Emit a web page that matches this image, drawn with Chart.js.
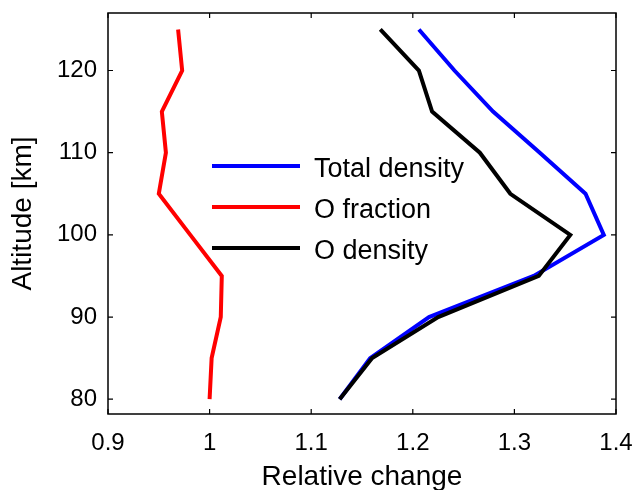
<!DOCTYPE html>
<html>
<head>
<meta charset="utf-8">
<title>Relative change with altitude</title>
<script src="https://cdn.jsdelivr.net/npm/chart.js@4.4.1/dist/chart.umd.min.js"></script>
<style>
    html, body { margin: 0; padding: 0; background: #fff; }
    #wrap { width: 638px; height: 490px; }
</style>
</head>
<body>
<div id="wrap"><canvas id="profileChart" width="638" height="490"></canvas></div>
<script>
const altitudes = [80, 85, 90, 95, 100, 105, 110, 115, 120, 125];
const totalDensity = [1.128, 1.158, 1.216, 1.319, 1.388, 1.370, 1.325, 1.279, 1.241, 1.206];
const oFraction = [1.000, 1.002, 1.011, 1.012, 0.981, 0.950, 0.957, 0.953, 0.973, 0.969];
const oDensity = [1.128, 1.160, 1.225, 1.324, 1.355, 1.296, 1.266, 1.219, 1.206, 1.168];

const xTicks = [0.9, 1.0, 1.1, 1.2, 1.3, 1.4];
const yTicks = [80, 90, 100, 110, 120];

const FONT = '"Liberation Sans", Arial, Helvetica, sans-serif';

function toPoints(values) {
    return values.map((v, i) => ({ x: v, y: altitudes[i] }));
}

// no extra room for the end labels, layout padding decides the plot box
function noLabelPadding(scale) {
    scale.paddingLeft = 0;
    scale.paddingRight = 0;
    scale.paddingTop = 0;
    scale.paddingBottom = 0;
}

// box round the plot with inward tick marks on all four sides
const boxPlugin = {
    id: 'boxTicks',
    afterDatasetsDraw(chart) {
        const { ctx, chartArea: a, scales } = chart;
        const len = 5;
        ctx.save();
        ctx.strokeStyle = '#000';
        ctx.lineWidth = 1.5;
        ctx.strokeRect(a.left, a.top, a.right - a.left, a.bottom - a.top);
        ctx.lineWidth = 1.2;
        ctx.beginPath();
        xTicks.forEach((t) => {
            const px = scales.x.getPixelForValue(t);
            ctx.moveTo(px, a.bottom); ctx.lineTo(px, a.bottom - len);
            ctx.moveTo(px, a.top); ctx.lineTo(px, a.top + len);
        });
        yTicks.forEach((t) => {
            const py = scales.y.getPixelForValue(t);
            ctx.moveTo(a.left, py); ctx.lineTo(a.left + len, py);
            ctx.moveTo(a.right, py); ctx.lineTo(a.right - len, py);
        });
        ctx.stroke();
        ctx.restore();
    },
};

// legend inside the plot, no frame
const legendPlugin = {
    id: 'innerLegend',
    afterDatasetsDraw(chart) {
        const { ctx, chartArea: a } = chart;
        const x0 = a.left + 104;
        const x1 = x0 + 88;
        const size = 27;
        ctx.save();
        ctx.font = `${size}px ${FONT}`;
        ctx.textBaseline = 'alphabetic';
        ctx.fillStyle = '#000';
        chart.data.datasets.forEach((ds, i) => {
            const y = a.top + 153 + i * 41;
            ctx.strokeStyle = ds.borderColor;
            ctx.lineWidth = ds.borderWidth;
            ctx.beginPath();
            ctx.moveTo(x0, y);
            ctx.lineTo(x1, y);
            ctx.stroke();
            ctx.fillText(ds.label, x1 + 14, y + 10.5);
        });
        ctx.restore();
    },
};

new Chart(document.getElementById('profileChart'), {
    type: 'line',
    data: {
        datasets: [
            { label: 'Total density', data: toPoints(totalDensity), borderColor: '#0000ff', borderWidth: 4, order: 2 },
            { label: 'O fraction', data: toPoints(oFraction), borderColor: '#ff0000', borderWidth: 4, order: 1 },
            { label: 'O density', data: toPoints(oDensity), borderColor: '#000000', borderWidth: 4, order: 0 },
        ],
    },
    options: {
        responsive: false,
        animation: false,
        layout: { padding: { left: 0, right: 22, top: 13, bottom: 0 } },
        elements: {
            line: { tension: 0, fill: false, borderCapStyle: 'butt', borderJoinStyle: 'miter' },
            point: { radius: 0, hoverRadius: 0 },
        },
        plugins: {
            legend: { display: false },
            tooltip: { enabled: false },
        },
        scales: {
            x: {
                type: 'linear',
                min: 0.9,
                max: 1.4,
                afterBuildTicks: (scale) => { scale.ticks = xTicks.map((v) => ({ value: v })); },
                afterFit: (scale) => { scale.height = 76; noLabelPadding(scale); },
                grid: { display: false, drawTicks: false },
                border: { display: false },
                ticks: {
                    color: '#000',
                    padding: 15,
                    maxRotation: 0,
                    font: { family: FONT, size: 24 },
                    callback: (v) => String(Math.round(v * 10) / 10),
                },
                title: {
                    display: true,
                    text: 'Relative change',
                    color: '#000',
                    font: { family: FONT, size: 28, lineHeight: 0.92 },
                    padding: { top: 0, bottom: 0 },
                },
            },
            y: {
                type: 'linear',
                min: 78.2,
                max: 127,
                afterBuildTicks: (scale) => { scale.ticks = yTicks.map((v) => ({ value: v })); },
                afterFit: (scale) => { scale.width = 108; noLabelPadding(scale); },
                grid: { display: false, drawTicks: false },
                border: { display: false },
                ticks: {
                    color: '#000',
                    padding: 11,
                    font: { family: FONT, size: 24 },
                },
                title: {
                    display: true,
                    text: 'Altitude [km]',
                    color: '#000',
                    font: { family: FONT, size: 28, lineHeight: 0.92 },
                    padding: { top: 10, bottom: 0 },
                },
            },
        },
    },
    plugins: [boxPlugin, legendPlugin],
});
</script>
</body>
</html>
